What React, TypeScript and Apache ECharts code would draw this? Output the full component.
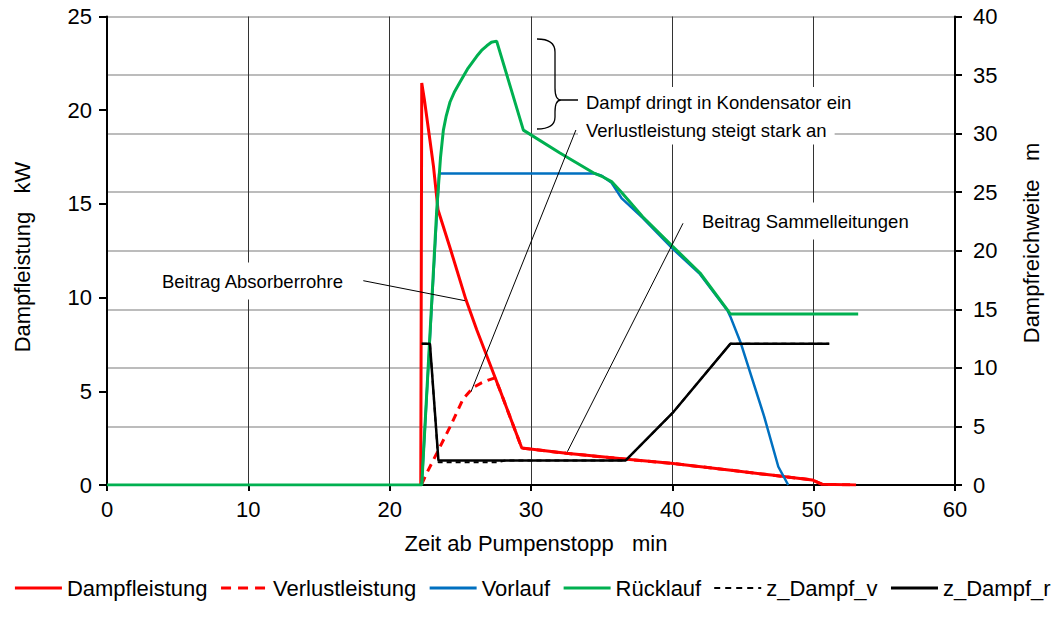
import React, { useEffect, useRef } from 'react';
import * as echarts from 'echarts';

// ---- data (time in min) ----
const xTicks = [0, 10, 20, 30, 40, 50, 60];

const dampfleistungT = [22.2, 22.27, 22.45, 22.85, 23.1, 23.42, 24.27, 25.4, 26.16, 27.8, 29.35, 32.5, 36.8, 39.9, 44, 47, 49.9, 50.6, 53.0];
const dampfleistungKW = [0, 21.45, 20.6, 18.4, 17.0, 14.69, 12.66, 9.88, 8.28, 5.07, 1.97, 1.69, 1.37, 1.16, 0.8, 0.53, 0.27, 0.04, 0];

const verlustT = [22.27, 22.6, 23.33, 24.27, 25.2, 25.9, 26.5, 26.98, 27.45, 27.8, 29.35, 32.5, 36.8, 39.9, 44, 47, 49.9, 50.6, 53.0];
const verlustKW = [0.05, 0.6, 1.69, 3.1, 4.6, 5.2, 5.45, 5.6, 5.72, 5.07, 1.97, 1.69, 1.37, 1.16, 0.8, 0.53, 0.27, 0.04, 0];

const vorlaufT = [22.27, 23.5, 34.5, 35.0, 35.7, 36.4, 37.9, 40.0, 41.96, 43.9, 44.1, 44.85, 46.5, 47.5, 48.2];
const vorlaufM = [0, 26.6, 26.6, 26.4, 25.8, 24.5, 22.8, 20.2, 18.0, 14.9, 14.4, 12.1, 5.84, 1.56, 0];

const ruecklaufT = [0, 22.27, 23.33, 23.6, 23.8, 24.0, 24.27, 24.6, 24.98, 25.5, 26.16, 26.5, 26.87, 27.2, 27.57, 29.46, 32.05, 34.5, 35.1, 35.7, 36.4, 37.9, 40.0, 41.96, 43.9, 44.1, 53.15];
const ruecklaufM = [0, 0, 23.5, 28.0, 30.3, 31.5, 32.7, 33.6, 34.4, 35.5, 36.6, 37.1, 37.5, 37.8, 37.9, 30.3, 28.35, 26.6, 26.3, 25.9, 25.0, 22.9, 20.4, 18.1, 14.96, 14.6, 14.6];

const zDampfVT = [22.27, 22.85, 23.45, 27.6, 28.2, 36.7, 40.0, 44.1, 51.1];
const zDampfVM = [12.05, 12.05, 1.95, 1.95, 2.1, 2.1, 6.13, 12.05, 12.05];

const zDampfRT = [22.27, 22.85, 23.45, 36.7, 40.0, 44.1, 51.1];
const zDampfRM = [12.05, 12.05, 2.1, 2.1, 6.13, 12.05, 12.05];

const legendNames = ['Dampfleistung', 'Verlustleistung', 'Vorlauf', 'Rücklauf', 'z_Dampf_v', 'z_Dampf_r'];

const FONT = '"Liberation Sans", Arial, sans-serif';

const pairs = (t: number[], v: number[]) => t.map((x, i) => [x, v[i]]);

let braceRegistered = false;

export default function App() {
  const ref = useRef<HTMLDivElement>(null);
  useEffect(() => {
    if (!ref.current) return;
    if (!braceRegistered) {
      echarts.graphic.registerShape(
        'brace',
        echarts.graphic.extendPath(
          'M537,39 Q555,39 555,52 L555,88 Q555,100 561,100 Q555,100 555,112 L555,117 Q555,129 537,129 M561,100 L578,100',
          {}
        )
      );
      braceRegistered = true;
    }
    const chart = echarts.init(ref.current, null, { renderer: 'svg' });
    const axisLabelStyle = { color: '#000', fontSize: 22, fontFamily: FONT };
    const mkLine = (name: string, data: number[][], yIdx: number, color: string, width: number, type: any) => ({
      name,
      type: 'line',
      yAxisIndex: yIdx,
      data,
      symbol: 'none',
      showSymbol: false,
      smooth: false,
      lineStyle: { color, width, type },
      itemStyle: { color },
      emphasis: { disabled: true },
    });
    const textEl = (text: string, x: number, y: number, padding: number[]) => ({
      type: 'text',
      x,
      y,
      z: 100,
      style: {
        text,
        fill: '#000',
        font: `18.5px ${FONT}`,
        align: 'left',
        verticalAlign: 'middle',
        backgroundColor: '#fff',
        padding,
      },
    });
    const lineEl = (x1: number, y1: number, x2: number, y2: number) => ({
      type: 'line',
      z: 101,
      shape: { x1, y1, x2, y2 },
      style: { stroke: '#000', lineWidth: 1 },
    });
    const legendWidths = [3, 3, 3, 3, 2, 3];
    const legendTypes: any[] = ['solid', [10, 7], 'solid', 'solid', [6, 5], 'solid'];
    chart.setOption({
      animation: false,
      grid: { left: 107, right: 109, top: 16.5, bottom: 133, containLabel: false },
      legend: {
        left: 'center',
        top: 577,
        itemWidth: 47,
        itemHeight: 14,
        itemGap: 12,
        padding: 0,
        itemStyle: { opacity: 0 },
        textStyle: { color: '#000', fontSize: 22, fontFamily: FONT },
        data: legendNames.map((name, i) => ({ name, lineStyle: { width: legendWidths[i], type: legendTypes[i] } })),
      },
      xAxis: {
        type: 'value',
        min: xTicks[0],
        max: xTicks[xTicks.length - 1],
        interval: 10,
        axisLine: { show: true, lineStyle: { color: '#000', width: 2 } },
        axisTick: { show: true, inside: false, length: 6, lineStyle: { color: '#000', width: 2 } },
        axisLabel: { ...axisLabelStyle, margin: 13 },
        splitLine: { show: true, lineStyle: { color: '#333', width: 1 } },
      },
      yAxis: [
        {
          type: 'value',
          position: 'left',
          min: 0,
          max: 25,
          interval: 5,
          axisLine: { show: true, onZero: false, lineStyle: { color: '#000', width: 2 } },
          axisTick: { show: true, inside: false, length: 8, lineStyle: { color: '#000', width: 2 } },
          axisLabel: { ...axisLabelStyle, margin: 15 },
          splitLine: { show: false },
        },
        {
          type: 'value',
          position: 'right',
          min: 0,
          max: 40,
          interval: 5,
          axisLine: { show: true, onZero: false, lineStyle: { color: '#000', width: 2 } },
          axisTick: { show: true, inside: false, length: 7, lineStyle: { color: '#000', width: 2 } },
          axisLabel: { ...axisLabelStyle, margin: 18 },
          splitLine: { show: true, lineStyle: { color: '#a6a6a6', width: 1.5 } },
        },
      ],
      series: [
        mkLine(legendNames[0], pairs(dampfleistungT, dampfleistungKW), 0, '#ff0000', 3, 'solid'),
        mkLine(legendNames[1], pairs(verlustT, verlustKW), 0, '#ff0000', 3, [8, 6]),
        mkLine(legendNames[2], pairs(vorlaufT, vorlaufM), 1, '#0070c0', 2.5, 'solid'),
        mkLine(legendNames[3], pairs(ruecklaufT, ruecklaufM), 1, '#00b050', 3, 'solid'),
        mkLine(legendNames[4], pairs(zDampfVT, zDampfVM), 1, '#000', 2, [5, 4]),
        mkLine(legendNames[5], pairs(zDampfRT, zDampfRM), 1, '#000', 2.5, 'solid'),
      ],
      graphic: [
        {
          type: 'brace',
          x: 0,
          y: 0,
          z: 100,
          style: { stroke: '#000', fill: null, lineWidth: 1.3 },
        },
        lineEl(575.9, 130, 471, 391.7),
        lineEl(363.3, 280.7, 465, 300.7),
        lineEl(683, 223.3, 567.4, 451.7),
        textEl('Dampf dringt in Kondensator ein', 578, 102, [9, 8, 2, 8]),
        textEl('Verlustleistung steigt stark an', 578, 130, [2, 8, 8, 8]),
        textEl('Beitrag Absorberrohre', 154, 281, [9, 8, 9, 8]),
        textEl('Beitrag Sammelleitungen', 694, 221, [9, 8, 9, 8]),
        {
          type: 'text',
          x: 536,
          y: 543,
          z: 100,
          style: { text: 'Zeit ab Pumpenstopp   min', fill: '#000', font: `22px ${FONT}`, align: 'center', verticalAlign: 'middle' },
        },
        {
          type: 'text',
          x: 22.5,
          y: 257,
          rotation: Math.PI / 2,
          z: 100,
          style: { text: 'Dampfleistung   kW', fill: '#000', font: `22px ${FONT}`, align: 'center', verticalAlign: 'middle' },
        },
        {
          type: 'text',
          x: 1031,
          y: 243,
          rotation: Math.PI / 2,
          z: 100,
          style: { text: 'Dampfreichweite   m', fill: '#000', font: `22px ${FONT}`, align: 'center', verticalAlign: 'middle' },
        },
      ],
    });
    return () => chart.dispose();
  }, []);
  return <div ref={ref} style={{ position: 'absolute', left: 0, top: 0, width: 1064, height: 618 }} />;
}
